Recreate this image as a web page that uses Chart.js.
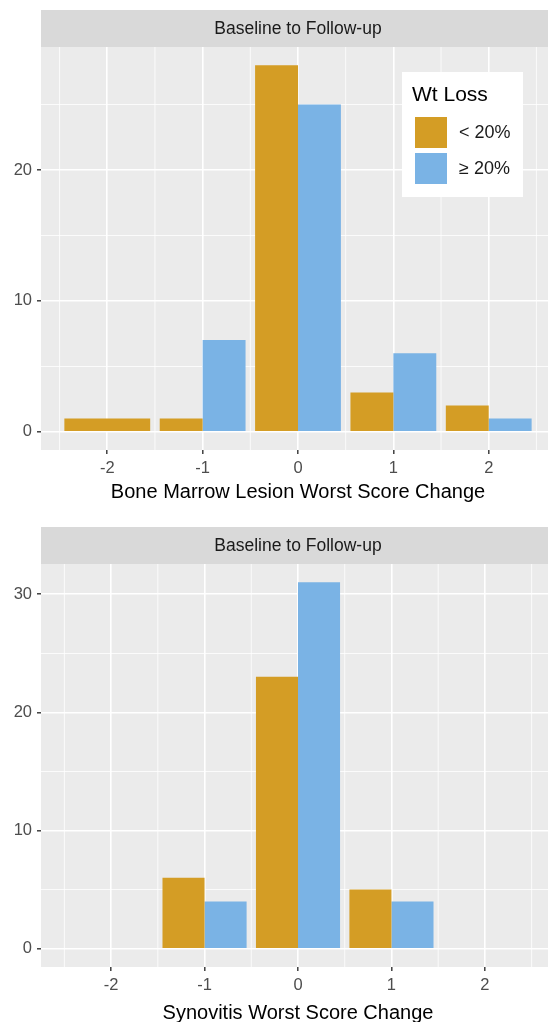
<!DOCTYPE html>
<html>
<head>
<meta charset="utf-8">
<script src="https://cdn.jsdelivr.net/npm/chart.js@4.4.1/dist/chart.umd.min.js"></script>
<style>
  html, body { margin: 0; padding: 0; background: #fff; overflow: hidden; width: 548px; height: 1022px; }
  canvas { display: block; }
</style>
</head>
<body>
<canvas id="bmlChart" width="560" height="511"></canvas>
<canvas id="synChart" width="560" height="520"></canvas>
<script>
// data
const scoreChange = [-2, -1, 0, 1, 2];
const groups = ['< 20%', '≥ 20%'];
const bmlLow = [1, 1, 28, 3, 2];
const bmlHigh = [null, 7, 25, 6, 1];
const synLow = [null, 6, 23, 5, null];
const synHigh = [null, 4, 31, 4, null];
const yTicks = [0, 5, 10, 15, 20, 25, 30];
const stripText = 'Baseline to Follow-up';
const legendTitle = 'Wt Loss';

const colLow = '#D49D25';
const colHigh = '#7AB3E5';
const fontFam = '"Liberation Sans", Arial, sans-serif';

// grey panel + facet strip + minor x grid
const panelPlugin = {
  id: 'panel',
  beforeDraw(chart) {
    const { ctx, chartArea: a } = chart;
    ctx.save();
    ctx.fillStyle = '#EBEBEB';
    ctx.fillRect(a.left, a.top, a.right - a.left, a.bottom - a.top);
    ctx.fillStyle = '#D9D9D9';
    ctx.fillRect(a.left, a.top - 37, a.right - a.left, 37);
    ctx.fillStyle = '#1A1A1A';
    ctx.font = '17.5px ' + fontFam;
    ctx.textAlign = 'center';
    ctx.textBaseline = 'middle';
    ctx.fillText(stripText, (a.left + a.right) / 2, a.top - 18);
    ctx.restore();
  },
  beforeDatasetsDraw(chart) {
    const { ctx, chartArea: a, scales } = chart;
    const minor = [scoreChange[0] - 0.5].concat(scoreChange.map(v => v + 0.5));
    ctx.save();
    ctx.strokeStyle = '#FFFFFF';
    ctx.lineWidth = 0.8;
    minor.forEach(v => {
      const px = scales.x.getPixelForValue(v);
      ctx.beginPath();
      ctx.moveTo(px, a.top);
      ctx.lineTo(px, a.bottom);
      ctx.stroke();
    });
    ctx.restore();
  }
};

const legendPlugin = {
  id: 'ggLegend',
  afterDatasetsDraw(chart, args, opts) {
    if (!opts.show) return;
    const { ctx, chartArea: a } = chart;
    const x0 = a.right - 153, y0 = a.top + 25;
    ctx.save();
    ctx.fillStyle = '#FFFFFF';
    ctx.fillRect(x0, y0, 121, 125);
    ctx.fillStyle = '#000';
    ctx.font = '21px ' + fontFam;
    ctx.textBaseline = 'alphabetic';
    ctx.textAlign = 'left';
    ctx.fillText(legendTitle, x0 + 10, y0 + 29);
    chart.data.datasets.forEach((ds, i) => {
      const ky = y0 + 45 + i * 36;
      ctx.fillStyle = ds.backgroundColor;
      ctx.fillRect(x0 + 13, ky, 32, 31);
      ctx.fillStyle = '#1A1A1A';
      ctx.font = '18px ' + fontFam;
      ctx.textBaseline = 'middle';
      ctx.fillText(ds.label, x0 + 57, ky + 16);
    });
    ctx.restore();
  }
};

function makeChart(id, low, high, xTitle, xLim, canvasH, topPad, bottomY, titlePad, showLegend) {
  const ymax = Math.max(...low.concat(high).filter(v => v != null));
  new Chart(document.getElementById(id), {
    type: 'bar',
    data: {
      datasets: [
        { label: groups[0], data: scoreChange.map((x, i) => ({ x: x, y: low[i] })), backgroundColor: colLow },
        { label: groups[1], data: scoreChange.map((x, i) => ({ x: x, y: high[i] })), backgroundColor: colHigh }
      ]
    },
    options: {
      responsive: false,
      animation: false,
      layout: { padding: { top: topPad, right: 5, left: 0, bottom: 0 } },
      datasets: { bar: { categoryPercentage: 0.9, barPercentage: 1.0, skipNull: true, borderWidth: 0 } },
      plugins: {
        legend: { display: false },
        tooltip: { enabled: false },
        ggLegend: { show: showLegend }
      },
      scales: {
        x: {
          type: 'linear',
          min: -xLim, max: xLim,
          offset: false,
          afterBuildTicks: s => { s.ticks = scoreChange.map(v => ({ value: v })); },
          afterFit: s => { s.height = canvasH - bottomY; },
          grid: { offset: false, color: '#FFFFFF', lineWidth: 1.6, tickColor: '#333333', tickLength: 4, tickWidth: 1.4 },
          border: { display: false },
          ticks: { color: '#4D4D4D', font: { size: 16.5, family: fontFam }, padding: 5, maxRotation: 0 },
          title: { display: true, text: xTitle, color: '#000', font: { size: 20, family: fontFam }, padding: { top: 0, bottom: titlePad } }
        },
        y: {
          min: -0.05 * ymax, max: 1.05 * ymax,
          bounds: 'data',
          afterBuildTicks: s => { s.ticks = yTicks.filter(v => v <= s.max).map(v => ({ value: v })); },
          afterFit: s => { s.width = 41; },
          grid: {
            color: '#FFFFFF',
            lineWidth: c => (c.tick && c.tick.value % 10 === 0 ? 1.6 : 0.8),
            tickColor: c => (c.tick && c.tick.value % 10 === 0 ? '#333333' : 'rgba(0,0,0,0)'),
            tickLength: 4, tickWidth: 1.4
          },
          border: { display: false },
          ticks: { color: '#4D4D4D', font: { size: 16.5, family: fontFam }, padding: 5, callback: v => (v % 10 === 0 ? v : '') }
        }
      }
    },
    plugins: [panelPlugin, legendPlugin]
  });
}

makeChart('bmlChart', bmlLow, bmlHigh, 'Bone Marrow Lesion Worst Score Change', 2.695, 511, 47, 450, 7, true);
makeChart('synChart', synLow, synHigh, 'Synovitis Worst Score Change', 2.75, 520, 53, 456, 6, false);
</script>
</body>
</html>
